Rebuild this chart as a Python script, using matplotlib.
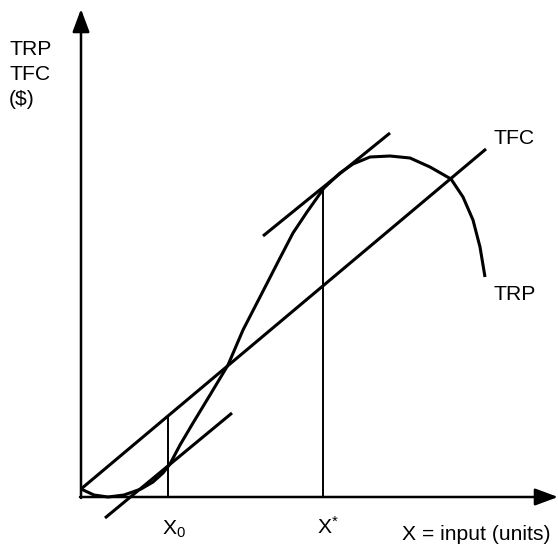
import matplotlib
matplotlib.use("Agg")
import matplotlib.pyplot as plt

plt.rcParams['font.family'] = ['Liberation Sans', 'DejaVu Sans']
plt.rcParams['mathtext.fontset'] = 'custom'
plt.rcParams['mathtext.rm'] = 'Liberation Sans'
plt.rcParams['mathtext.it'] = 'Liberation Sans:italic'

# total revenue product curve (x = input, y = $)
trp_x = [0, 13, 27, 43, 60, 72, 82, 89, 99, 112, 129, 147, 162, 179, 199,
         212, 226, 243, 259, 272, 289, 309, 329, 349, 370, 382, 392, 399, 404]
trp_y = [8, 2, 0, 2, 8, 15, 24, 33, 52, 74, 102, 132, 167, 200, 239,
         264, 285, 309, 324, 333, 340, 341, 339, 330, 318, 300, 277, 250, 220]

# total factor cost line
tfc_x = [0, 405]
tfc_y = [8, 348]

# tangent lines parallel to TFC
tan0_x = [24, 151]
tan0_y = [-21, 84]
tanstar_x = [182, 309]
tanstar_y = [261, 364]

# input levels and heights of the drop lines
x0, x0_top = 87, 81
xstar, xstar_top = 242, 310

fig = plt.figure(figsize=(5.58, 5.44), dpi=100)
ax = fig.add_axes([0, 0, 1, 1])
ax.set_xlim(-81, 477)
ax.set_ylim(-47, 497)
ax.axis('off')

# axes with arrowheads
arrow = dict(arrowstyle='-|>,head_length=0.7,head_width=0.26', mutation_scale=20,
             color='black', lw=1.8, shrinkA=0, shrinkB=0)
ax.annotate('', xy=(0, 488), xytext=(0, -1), arrowprops=arrow)
ax.annotate('', xy=(477, 0), xytext=(-1, 0), arrowprops=arrow)

ax.plot(trp_x, trp_y, color='black', lw=2.2, solid_capstyle='butt', solid_joinstyle='round')
ax.plot(tfc_x, tfc_y, color='black', lw=2.2, solid_capstyle='butt')
ax.plot(tan0_x, tan0_y, color='black', lw=2.2, solid_capstyle='butt')
ax.plot(tanstar_x, tanstar_y, color='black', lw=2.2, solid_capstyle='butt')
ax.plot([x0, x0], [0, x0_top], color='black', lw=1.4)
ax.plot([xstar, xstar], [0, xstar_top], color='black', lw=1.4)

fs = 15.2
ax.text(-72, 442, 'TRP', fontsize=fs, va='baseline')
ax.text(-72, 417, 'TFC', fontsize=fs, va='baseline')
ax.text(-72, 392, '($)', fontsize=fs, va='baseline')
ax.text(412, 353, 'TFC', fontsize=fs, va='baseline')
ax.text(413, 197, 'TRP', fontsize=fs, va='baseline')
ax.text(81, -38, r'X$_{\mathrm{0}}$', fontsize=fs, va='baseline')
ax.text(236, -37, r'X$^{\mathrm{*}}$', fontsize=fs, va='baseline')
ax.text(321, -43, 'X = input (units)', fontsize=fs, va='baseline')

fig.savefig('out.png', dpi=100)
